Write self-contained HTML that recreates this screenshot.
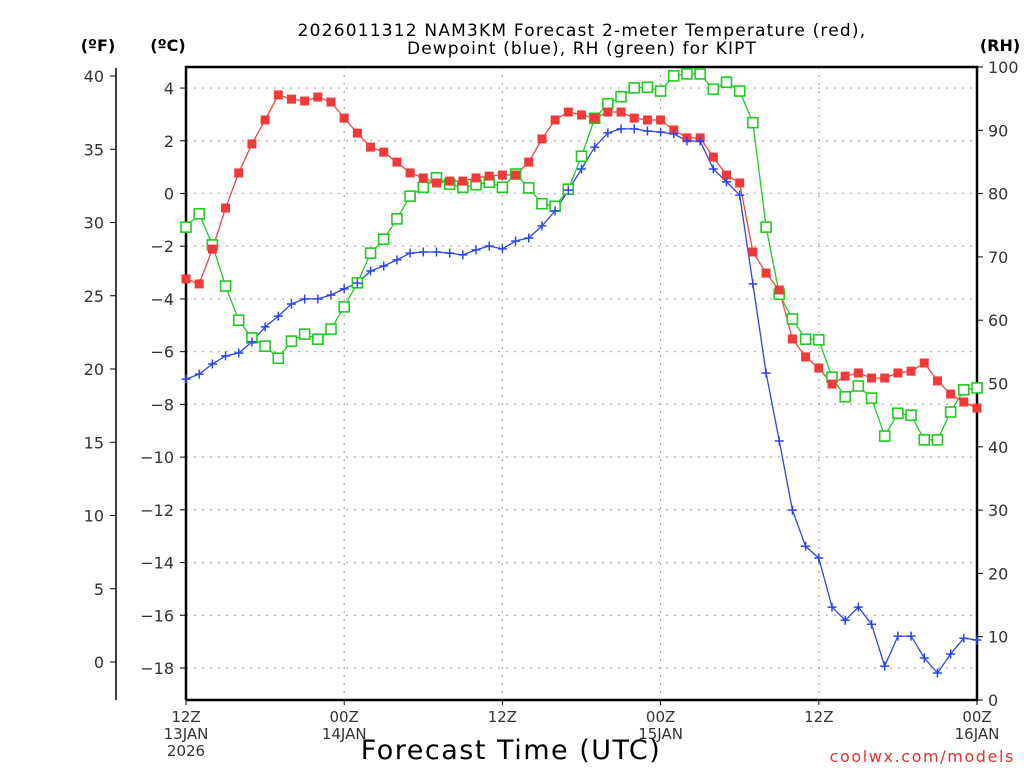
<!DOCTYPE html>
<html><head><meta charset="utf-8"><style>
html,body{margin:0;padding:0;background:#fff;width:1024px;height:768px;overflow:hidden}
svg text{font-family:"DejaVu Sans","Liberation Sans",sans-serif}
</style></head><body>
<svg id="chart" width="1024" height="768" viewBox="0 0 1024 768" xmlns="http://www.w3.org/2000/svg">
<g id="grid"></g>
<g id="axes"></g>
<g id="series"></g>
<text x="582" y="36" font-size="17" text-anchor="middle" letter-spacing="1.2">2026011312 NAM3KM Forecast 2-meter Temperature (red),</text>
<text x="582" y="54" font-size="17" text-anchor="middle" letter-spacing="1.1">Dewpoint (blue), RH (green) for KIPT</text>
<text x="98" y="51" font-size="16" font-weight="bold" text-anchor="middle">(ºF)</text>
<text x="168" y="51" font-size="16" font-weight="bold" text-anchor="middle">(ºC)</text>
<text x="1000" y="51" font-size="16" font-weight="bold" text-anchor="middle">(RH)</text>
<text x="511" y="759" font-size="27" text-anchor="middle" letter-spacing="1.5">Forecast Time (UTC)</text>
<text x="1015" y="762" font-size="16" fill="#e83030" text-anchor="end" letter-spacing="1.6" font-family="Liberation Mono, monospace">coolwx.com/models</text>
</svg>
<script>
const hours = [0,1,2,3,4,5,6,7,8,9,10,11,12,13,14,15,16,17,18,19,20,21,22,23,24,25,26,27,28,29,30,31,32,33,34,35,36,37,38,39,40,41,42,43,44,45,46,47,48,49,50,51,52,53,54,55,56,57,58,59,60];
const tempC = [-3.24,-3.43,-2.11,-0.55,0.78,1.88,2.79,3.74,3.58,3.51,3.66,3.47,2.86,2.29,1.76,1.57,1.19,0.78,0.59,0.40,0.47,0.47,0.59,0.66,0.70,0.70,1.19,2.07,2.79,3.09,2.98,2.86,3.09,3.09,2.86,2.79,2.79,2.41,2.11,2.11,1.38,0.70,0.40,-2.22,-3.02,-3.66,-5.52,-6.20,-6.62,-7.23,-6.93,-6.81,-7.00,-7.00,-6.81,-6.74,-6.43,-7.11,-7.61,-7.91,-8.14];
const dewC = [-7.04,-6.85,-6.47,-6.16,-6.05,-5.63,-5.06,-4.65,-4.19,-4.00,-4.00,-3.85,-3.62,-3.40,-2.94,-2.75,-2.52,-2.26,-2.22,-2.22,-2.26,-2.33,-2.14,-1.99,-2.10,-1.80,-1.69,-1.23,-0.66,0.13,0.93,1.76,2.30,2.45,2.45,2.37,2.33,2.26,1.99,1.99,0.93,0.44,-0.06,-3.43,-6.81,-9.39,-12.01,-13.38,-13.83,-15.69,-16.19,-15.69,-16.34,-17.93,-16.79,-16.79,-17.62,-18.19,-17.47,-16.87,-16.94];
const rh = [74.7,76.8,71.9,65.4,60.0,57.2,55.9,54.0,56.7,57.8,57.0,58.6,62.1,65.9,70.6,72.8,76.0,79.6,81.0,82.5,81.5,81.0,81.4,81.8,81.0,83.1,80.9,78.4,78.0,80.7,85.9,91.9,94.2,95.3,96.7,96.8,96.2,98.6,98.9,98.9,96.5,97.6,96.2,91.2,74.7,64.1,60.2,57.0,56.9,51.0,47.9,49.6,47.7,41.7,45.3,45.0,41.1,41.1,45.5,49.0,49.3];
const cTicks = [4,2,0,-2,-4,-6,-8,-10,-12,-14,-16,-18];
const fTicks = [40,35,30,25,20,15,10,5,0];
const rhTicks = [100,90,80,70,60,50,40,30,20,10,0];
const xTickHours = [0,12,24,36,48,60];
const xTickLabels = [["12Z","13JAN","2026"],["00Z","14JAN"],["12Z"],["00Z","15JAN"],["12Z"],["00Z","16JAN"]];

const NS="http://www.w3.org/2000/svg";
const L=186,R=977,T=67,B=700;
const xS=h=>L+(R-L)*h/60;
const yC=c=>193.5-c*26.36;
const yF=f=>662-f*14.65;
const yRH=r=>B-(B-T)*r/100;
function mk(tag,attrs,parent){const e=document.createElementNS(NS,tag);for(const k in attrs)e.setAttribute(k,attrs[k]);parent.appendChild(e);return e;}
const grid=document.getElementById('grid'),axes=document.getElementById('axes'),series=document.getElementById('series');

cTicks.forEach(c=>{
  const g=mk('line',{x1:L,x2:R,y1:yC(c),y2:yC(c),stroke:'#aaa','stroke-width':1.2,'stroke-dasharray':'2,6'},grid);
  
  
  const t=mk('line',{x1:L-6,x2:L,y1:yC(c),y2:yC(c),stroke:'#000','stroke-width':1},axes);
  
  
  const lb=mk('text',{x:L-12,y:yC(c)+6,'font-size':16,'text-anchor':'end',fill:'#333'},axes);
  lb.textContent=c<0?'\u2212'+Math.abs(c):String(c);
  
  
});
xTickHours.forEach((h,i)=>{
  if(h>0&&h<60){
    const g=mk('line',{x1:xS(h),x2:xS(h),y1:T,y2:B,stroke:'#aaa','stroke-width':1.2,'stroke-dasharray':'2,6'},grid);
    
    
  }
  const t=mk('line',{x1:xS(h),x2:xS(h),y1:B,y2:B+5,stroke:'#000','stroke-width':1},axes);
  
  
  xTickLabels[i].forEach((s,j)=>{
    const lb=mk('text',{x:xS(h),y:722+j*17,'font-size':15,'text-anchor':'middle',fill:'#333'},axes);
    lb.textContent=s;
    
    
  });
});
const fa=mk('line',{x1:116,x2:116,y1:68,y2:B,stroke:'#000','stroke-width':1.5},axes);


fTicks.forEach(f=>{
  const t=mk('line',{x1:110,x2:116,y1:yF(f),y2:yF(f),stroke:'#000','stroke-width':1},axes);
  
  
  const lb=mk('text',{x:104,y:yF(f)+6,'font-size':16,'text-anchor':'end',fill:'#333'},axes);
  lb.textContent=String(f);
  
  
});
rhTicks.forEach(r=>{
  const t=mk('line',{x1:R,x2:R+6,y1:yRH(r),y2:yRH(r),stroke:'#000','stroke-width':1},axes);
  
  
  const lb=mk('text',{x:988,y:yRH(r)+6,'font-size':16,'text-anchor':'start',fill:'#333'},axes);
  lb.textContent=String(r);
  
  
});
const fr=mk('path',{d:`M${L},${B}V${T}H${R}V${B}H${L}`,fill:'none',stroke:'#000','stroke-width':2.5},axes);



function line(vals,yf,color,name){
  const pts=hours.map((h,i)=>xS(h).toFixed(1)+','+yf(vals[i]).toFixed(1)).join(' ');
  const p=mk('polyline',{points:pts,fill:'none',stroke:color,'stroke-width':1.3},series);
  
  
}
line(rh,yRH,'#1fcc1f','rh-line');
line(tempC,yC,'#f04444','temperature-line');
line(dewC,yC,'#2a46f0','dewpoint-line');
hours.forEach((h,i)=>{
  const x=xS(h),y=yRH(rh[i]);
  const m=mk('rect',{x:x-5,y:y-5,width:10,height:10,fill:'#fff',stroke:'#1fcc1f','stroke-width':1.6},series);
  
  
});
hours.forEach((h,i)=>{
  const x=xS(h),y=yC(tempC[i]);
  const m=mk('rect',{x:x-4.5,y:y-4.5,width:9,height:9,fill:'#f03a3a'},series);
  
  
});
hours.forEach((h,i)=>{
  const x=xS(h),y=yC(dewC[i]);
  const m=mk('path',{d:`M${x-4.5},${y}H${x+4.5}M${x},${y-4.5}V${y+4.5}`,stroke:'#2a46f0','stroke-width':1.5,fill:'none'},series);
  
  
});
</script>
</body></html>
